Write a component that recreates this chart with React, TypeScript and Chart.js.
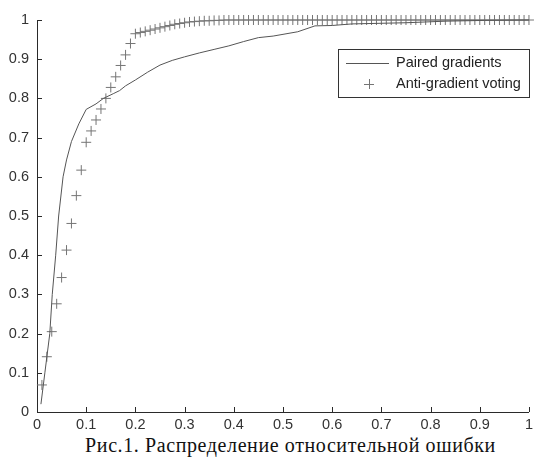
import React, { useEffect, useRef } from "react";
import { Chart, registerables } from "chart.js";

Chart.register(...registerables);

const seriesNames = ["Paired gradients", "Anti-gradient voting"];
const caption = "Рис.1. Распределение относительной ошибки";
const xTickLabels = ["0", "0.1", "0.2", "0.3", "0.4", "0.5", "0.6", "0.7", "0.8", "0.9", "1"];
const yTickLabels = ["0", "0.1", "0.2", "0.3", "0.4", "0.5", "0.6", "0.7", "0.8", "0.9", "1"];

const pairedX = [0.008, 0.016, 0.026, 0.031, 0.038, 0.044, 0.053, 0.06, 0.07, 0.085, 0.1, 0.12, 0.135, 0.155, 0.168, 0.18, 0.2, 0.225, 0.25, 0.275, 0.3, 0.33, 0.36, 0.39, 0.42, 0.45, 0.48, 0.53, 0.565, 0.6, 0.64, 0.75, 0.83, 0.91, 1.0];
const pairedY = [0.02, 0.1, 0.2, 0.3, 0.4, 0.5, 0.6, 0.643, 0.69, 0.735, 0.772, 0.786, 0.8, 0.812, 0.82, 0.832, 0.847, 0.867, 0.885, 0.897, 0.906, 0.916, 0.925, 0.934, 0.945, 0.955, 0.959, 0.97, 0.985, 0.986, 0.99, 0.993, 0.997, 0.999, 1.0];

const votingX = [
  0.01, 0.02, 0.03, 0.04, 0.05, 0.06, 0.07, 0.08, 0.09, 0.1,
  0.11, 0.12, 0.13, 0.14, 0.15, 0.16, 0.17, 0.18, 0.19, 0.2,
  0.21, 0.22, 0.23, 0.24, 0.25, 0.26, 0.27, 0.28, 0.29, 0.3,
  0.31, 0.32, 0.33, 0.34, 0.35, 0.36, 0.37, 0.38, 0.39, 0.4,
  0.41, 0.42, 0.43, 0.44, 0.45, 0.46, 0.47, 0.48, 0.49, 0.5,
  0.51, 0.52, 0.53, 0.54, 0.55, 0.56, 0.57, 0.58, 0.59, 0.6,
  0.61, 0.62, 0.63, 0.64, 0.65, 0.66, 0.67, 0.68, 0.69, 0.7,
  0.71, 0.72, 0.73, 0.74, 0.75, 0.76, 0.77, 0.78, 0.79, 0.8,
  0.81, 0.82, 0.83, 0.84, 0.85, 0.86, 0.87, 0.88, 0.89, 0.9,
  0.91, 0.92, 0.93, 0.94, 0.95, 0.96, 0.97, 0.98, 0.99, 1.0,
];
const votingY = [
  0.069, 0.141, 0.205, 0.276, 0.343, 0.413, 0.481, 0.552, 0.617, 0.688,
  0.717, 0.745, 0.773, 0.8, 0.828, 0.855, 0.884, 0.911, 0.94, 0.965,
  0.968, 0.971, 0.974, 0.977, 0.98, 0.983, 0.986, 0.989, 0.991, 0.993,
  0.995, 0.996, 0.997, 0.998, 0.998, 0.999, 0.999, 1, 1, 1,
  1, 1, 1, 1, 1, 1, 1, 1, 1, 1,
  1, 1, 1, 1, 1, 1, 1, 1, 1, 1,
  1, 1, 1, 1, 1, 1, 1, 1, 1, 1,
  1, 1, 1, 1, 1, 1, 1, 1, 1, 1,
  1, 1, 1, 1, 1, 1, 1, 1, 1, 1,
  1, 1, 1, 1, 1, 1, 1, 1, 1, 1,
];

const AXIS_COLOR = "#2a2a2a";
const TEXT_COLOR = "#333";
const LINE_COLOR = "#555";
const PLUS_COLOR = "#757575";
const FONT = "Liberation Sans, Arial, sans-serif";

const innerTicksAndLegend = {
  id: "innerTicksAndLegend",
  afterDraw(chart: any) {
    const ctx = chart.ctx;
    const xs = chart.scales.x;
    const ys = chart.scales.y;
    const area = chart.chartArea;
    ctx.save();
    ctx.strokeStyle = AXIS_COLOR;
    ctx.lineWidth = 1;
    ctx.beginPath();
    xs.ticks.forEach((t: any) => {
      const px = Math.round(xs.getPixelForValue(t.value)) + 0.5;
      ctx.moveTo(px, area.bottom);
      ctx.lineTo(px, area.bottom - 5);
    });
    ys.ticks.forEach((t: any) => {
      const py = Math.round(ys.getPixelForValue(t.value)) + 0.5;
      ctx.moveTo(area.left, py);
      ctx.lineTo(area.left + 5, py);
    });
    ctx.stroke();

    // legend box
    const bx = 338.5, by = 49.5, bw = 191, bh = 48;
    ctx.fillStyle = "#fff";
    ctx.fillRect(bx, by, bw, bh);
    ctx.strokeStyle = "#333";
    ctx.strokeRect(bx, by, bw, bh);
    ctx.font = "14.5px " + FONT;
    ctx.fillStyle = "#222";
    ctx.textBaseline = "middle";
    ctx.textAlign = "left";
    ctx.strokeStyle = LINE_COLOR;
    ctx.beginPath();
    ctx.moveTo(346, 63.5);
    ctx.lineTo(389, 63.5);
    ctx.stroke();
    ctx.fillText(seriesNames[0], 396, 63);
    ctx.strokeStyle = PLUS_COLOR;
    ctx.beginPath();
    ctx.moveTo(364, 84.5);
    ctx.lineTo(374, 84.5);
    ctx.moveTo(369.5, 79);
    ctx.lineTo(369.5, 89);
    ctx.stroke();
    ctx.fillText(seriesNames[1], 396, 84);
    ctx.restore();
  },
};

export default function App() {
  const ref = useRef<HTMLCanvasElement | null>(null);
  useEffect(() => {
    if (!ref.current) return;
    const chart = new Chart(ref.current, {
      type: "scatter",
      data: {
        datasets: [
          {
            label: seriesNames[0],
            data: pairedX.map((x, i) => ({ x, y: pairedY[i] })),
            showLine: true,
            borderColor: LINE_COLOR,
            borderWidth: 1,
            pointRadius: 0,
            tension: 0,
            clip: false as any,
          },
          {
            label: seriesNames[1],
            data: votingX.map((x, i) => ({ x, y: votingY[i] })),
            showLine: false,
            pointStyle: "cross",
            pointRadius: 5,
            pointBorderWidth: 1,
            borderColor: PLUS_COLOR,
            backgroundColor: PLUS_COLOR,
            clip: false as any,
          },
        ],
      },
      options: {
        responsive: false,
        animation: false,
        devicePixelRatio: 1,
        layout: { padding: { left: 0, right: 7, top: 20, bottom: 0 } },
        plugins: { legend: { display: false }, tooltip: { enabled: false } },
        scales: {
          x: {
            type: "linear",
            min: 0,
            max: 1,
            afterFit: (s: any) => { s.height = 20; },
            border: { display: true, color: AXIS_COLOR, width: 1 },
            grid: { drawOnChartArea: false, drawTicks: false },
            ticks: {
              stepSize: 0.1,
              padding: 4,
              color: TEXT_COLOR,
              font: { family: FONT, size: 14.5 },
              maxRotation: 0,
              autoSkip: false,
              callback: (v: any) => xTickLabels[Math.round(Number(v) * 10)],
            },
          },
          y: {
            type: "linear",
            min: 0,
            max: 1,
            afterFit: (s: any) => { s.width = 37; },
            border: { display: true, color: AXIS_COLOR, width: 1 },
            grid: { drawOnChartArea: false, drawTicks: false },
            ticks: {
              stepSize: 0.1,
              padding: 8,
              color: TEXT_COLOR,
              font: { family: FONT, size: 14.5 },
              autoSkip: false,
              callback: (v: any) => yTickLabels[Math.round(Number(v) * 10)],
            },
          },
        },
      },
      plugins: [innerTicksAndLegend],
    } as any);
    return () => chart.destroy();
  }, []);

  return (
    <div style={{ position: "absolute", left: 0, top: 0, width: 537, height: 463, background: "#fff" }}>
      <canvas ref={ref} width={537} height={432} style={{ display: "block" }} />
      <div
        style={{
          position: "absolute",
          left: 0,
          top: 433,
          width: 537,
          textAlign: "center",
          fontFamily: "'Liberation Serif', 'Times New Roman', serif",
          fontSize: 20,
          letterSpacing: "0.6px",
          lineHeight: "24px",
          color: "#111",
          paddingLeft: 44,
          boxSizing: "border-box",
        }}
      >
        {caption}
      </div>
    </div>
  );
}
